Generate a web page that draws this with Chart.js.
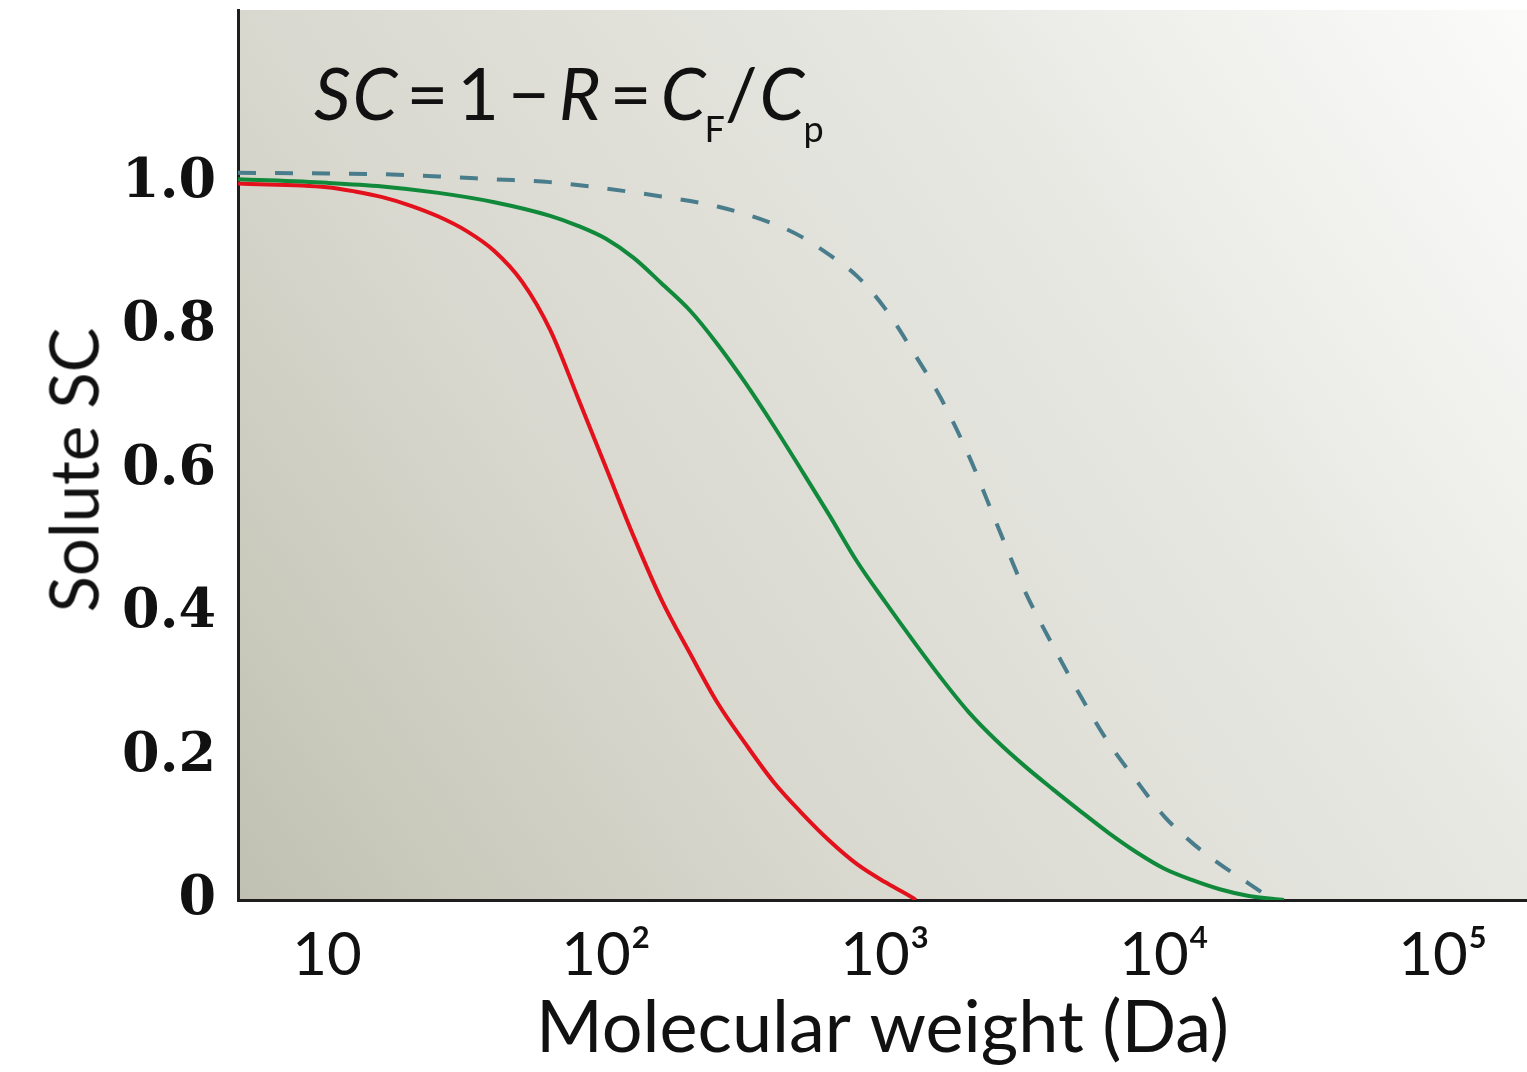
<!DOCTYPE html>
<html>
<head>
<meta charset="utf-8">
<script src="https://cdn.jsdelivr.net/npm/chart.js@4.4.1/dist/chart.umd.min.js"></script>
<style>
  body { margin: 0; background: #fff; }
  #wrap { position: relative; width: 1527px; height: 1072px; }
  #formula {
    position: absolute; left: 314px; top: 56px;
    font-family: Lato, 'Open Sans', sans-serif; font-size: 72px; color: #111;
    line-height: 1; white-space: nowrap; letter-spacing: 2px;
  }
  #formula i { font-style: italic; }
  #formula .op { margin: 0 7px; }
  #formula sub { font-size: 36px; vertical-align: -22px; margin-left: -3px; letter-spacing: 0; }
  #ytitle {
    position: absolute; left: 73px; top: 470px;
    transform: translate(-50%, -50%) rotate(-90deg);
    font-family: Lato, sans-serif; font-size: 67px; color: #111;
    white-space: nowrap; line-height: 1;
  }
</style>
</head>
<body>
<div id="wrap">
  <canvas id="chart" width="1527" height="1072"></canvas>
  <div id="formula"><i>SC</i><span class="op">=</span>1<span class="op">−</span><i>R</i><span class="op">=</span><i>C</i><sub>F</sub>/<i>C</i><sub>p</sub></div>
  <div id="ytitle">Solute SC</div>
</div>
<script>
// valeurs (poids moléculaire en Da, SC sans unité)
const redMW = [4.8, 10, 12.6, 15.8, 20, 25.1, 31.6, 39.8, 50.1, 63.1, 79.4, 100, 126, 158, 200, 251, 316, 398, 501, 631, 794, 1000, 1259, 1290];
const redSC = [0.999, 0.994, 0.988, 0.980, 0.968, 0.953, 0.933, 0.905, 0.862, 0.795, 0.70, 0.603, 0.506, 0.419, 0.344, 0.275, 0.218, 0.165, 0.122, 0.083, 0.05, 0.025, 0.003, 0.0];

const greenMW = [4.8, 10, 15.8, 25.1, 39.8, 63.1, 79.4, 100, 126, 158, 200, 251, 316, 398, 501, 631, 794, 1000, 1259, 1585, 1995, 2512, 3162, 3981, 5012, 6310, 7943, 10000, 12589, 15849, 19953, 26915];
const greenSC = [1.005, 1.0, 0.995, 0.986, 0.973, 0.954, 0.94, 0.922, 0.895, 0.86, 0.822, 0.775, 0.721, 0.662, 0.60, 0.537, 0.472, 0.416, 0.362, 0.31, 0.262, 0.222, 0.187, 0.155, 0.124, 0.094, 0.067, 0.044, 0.028, 0.015, 0.006, 0.0];

const dashMW = [4.8, 10, 15.8, 25.1, 39.8, 63.1, 100, 158, 251, 398, 501, 646, 794, 1000, 1259, 1585, 1995, 2512, 3162, 3981, 5012, 6310, 7943, 10000, 12589, 15849, 19953, 23988];
const dashSC = [1.014, 1.013, 1.012, 1.009, 1.005, 1.001, 0.992, 0.981, 0.967, 0.943, 0.925, 0.897, 0.87, 0.825, 0.765, 0.70, 0.62, 0.525, 0.432, 0.356, 0.285, 0.22, 0.167, 0.117, 0.08, 0.05, 0.024, 0.003];

const xTicks = [10, 100, 1000, 10000, 100000];
const xTickLabels = ['10', '10²', '10³', '10⁴', '10⁵'];
const yTicks = [0, 0.2, 0.4, 0.6, 0.8, 1.0];
const yTickLabels = ['0', '0.2', '0.4', '0.6', '0.8', '1.0'];

const toPoints = (xs, ys) => xs.map((x, i) => ({ x: x, y: ys[i] }));

// fond dégradé de la zone du graphique
const bgPlugin = {
    id: 'bgGradient',
    beforeDraw(chart) {
        const { ctx, chartArea: a } = chart;
        const g = ctx.createLinearGradient(a.left, a.bottom, a.right, a.top);
        g.addColorStop(0, '#c1c1b2');
        g.addColorStop(0.32, '#d8d8cf');
        g.addColorStop(0.5, '#e0e0d9');
        g.addColorStop(0.68, '#e8e8e3');
        g.addColorStop(1, '#fbfbfa');
        ctx.save();
        ctx.fillStyle = g;
        ctx.fillRect(a.left, a.top, a.right - a.left, a.bottom - a.top);
        ctx.restore();
    }
};

const ctx = document.getElementById('chart').getContext('2d');
new Chart(ctx, {
    type: 'line',
    data: {
        datasets: [
            {
                label: 'dashed',
                data: toPoints(dashMW, dashSC),
                borderColor: '#4a7d8c',
                borderWidth: 4,
                borderDash: [18, 19],
                pointRadius: 0,
                cubicInterpolationMode: 'monotone'
            },
            {
                label: 'green',
                data: toPoints(greenMW, greenSC),
                borderColor: '#10893b',
                borderWidth: 4,
                pointRadius: 0,
                cubicInterpolationMode: 'monotone'
            },
            {
                label: 'red',
                data: toPoints(redMW, redSC),
                borderColor: '#e3111b',
                borderWidth: 4,
                pointRadius: 0,
                cubicInterpolationMode: 'monotone'
            }
        ]
    },
    options: {
        responsive: false,
        animation: false,
        layout: { padding: { top: 10, right: 0, bottom: 0, left: 0 } },
        plugins: {
            legend: { display: false },
            tooltip: { enabled: false }
        },
        scales: {
            x: {
                type: 'logarithmic',
                min: 4.8,
                max: 200000,
                afterBuildTicks: (scale) => {
                    scale.ticks = xTicks.map(v => ({ value: v }));
                },
                afterFit: (scale) => {
                    scale.height = 172;
                    scale.paddingLeft = 0;
                    scale.paddingRight = 0;
                },
                grid: { display: false, drawTicks: false },
                border: { display: true, color: '#1e1e1e', width: 3 },
                ticks: {
                    color: '#111',
                    padding: 20,
                    maxRotation: 0,
                    autoSkip: false,
                    font: { family: 'Lato', size: 60 },
                    callback: (value) => {
                        const i = xTicks.indexOf(value);
                        return i >= 0 ? xTickLabels[i] : '';
                    }
                },
                title: {
                    display: true,
                    text: 'Molecular weight (Da)',
                    color: '#111',
                    font: { family: 'Lato', size: 72 },
                    padding: { top: 0, bottom: 0 }
                }
            },
            y: {
                type: 'linear',
                min: 0,
                max: 1.241,
                afterBuildTicks: (scale) => {
                    scale.ticks = yTicks.map(v => ({ value: v }));
                },
                afterFit: (scale) => {
                    scale.width = 238;
                    scale.paddingTop = 0;
                    scale.paddingBottom = 0;
                },
                grid: { display: false, drawTicks: false },
                border: { display: true, color: '#1e1e1e', width: 3 },
                ticks: {
                    color: '#111',
                    padding: 22,
                    autoSkip: false,
                    font: { family: 'DejaVu Serif', size: 54, weight: 'bold' },
                    callback: (value) => {
                        const i = yTicks.findIndex(t => Math.abs(t - value) < 1e-9);
                        return i >= 0 ? yTickLabels[i] : '';
                    }
                }
            }
        }
    },
    plugins: [bgPlugin]
});
</script>
</body>
</html>
